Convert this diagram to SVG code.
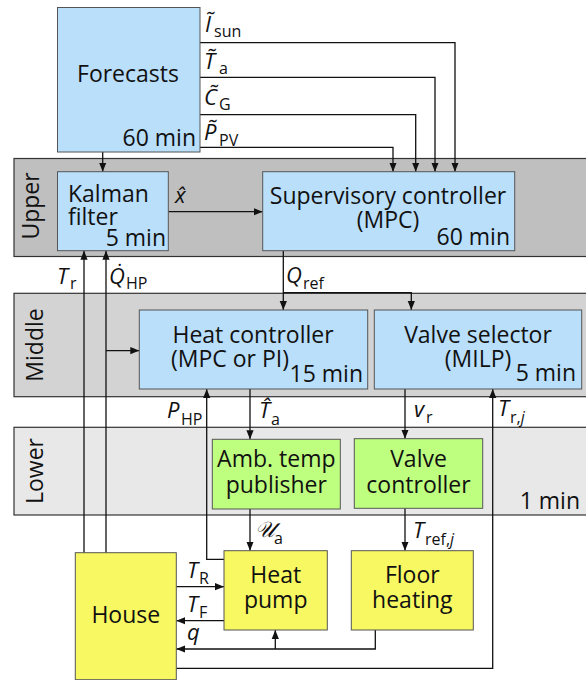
<svg xmlns="http://www.w3.org/2000/svg" width="586" height="680" viewBox="0 0 586 680">
<defs>
<marker id="ah" viewBox="0 0 10 10" refX="10" refY="5" markerWidth="9" markerHeight="9" markerUnits="userSpaceOnUse" orient="auto">
<path d="M0,1 L10,5 L0,9 z" fill="#111"/>
</marker>
<style>
.band{stroke:#333;stroke-width:1.2}
.blue{fill:#b9dffb;stroke:#555;stroke-width:1}
.green{fill:#bfff80;stroke:#555;stroke-width:1}
.yellow{fill:#f8f862;stroke:#555;stroke-width:1}
.t{font-family:"Open Sans","DejaVu Sans",sans-serif;font-size:23px;fill:#111}
.c{text-anchor:middle}
.r{text-anchor:end}
.m{font-family:"Open Sans","DejaVu Sans",sans-serif;font-size:22px;font-style:italic;fill:#111}
.s{font-family:"Open Sans","DejaVu Sans",sans-serif;font-size:16px;font-style:normal;fill:#111}
.si{font-family:"Open Sans","DejaVu Sans",sans-serif;font-size:16px;font-style:italic;fill:#111}
.w{fill:none;stroke:#111;stroke-width:1.3}
.wa{fill:none;stroke:#111;stroke-width:1.3;marker-end:url(#ah)}
</style>
</defs>
<rect width="586" height="680" fill="#fff"/>

<g id="bands">
<rect class="band" x="14" y="158.5" width="580" height="98" fill="#bfbfbf"/>
<rect class="band" x="14" y="293.3" width="580" height="103.4" fill="#d3d3d3"/>
<rect class="band" x="14" y="427.3" width="580" height="87.7" fill="#e8e8e8"/>
<text class="t c" transform="translate(39,206) rotate(-90)">Upper</text>
<text class="t c" transform="translate(42.5,345) rotate(-90)">Middle</text>
<text class="t c" transform="translate(42.5,471) rotate(-90)">Lower</text>
<text class="t r" x="580" y="509">1 min</text>
</g>

<g id="connectors">
<path class="w" d="M200,42.7 H455 V171.7" marker-end="url(#ah)"/>
<path class="w" d="M200,77.3 H435 V171.7" marker-end="url(#ah)"/>
<path class="w" d="M200,114.7 H415.7 V171.7" marker-end="url(#ah)"/>
<path class="w" d="M200,147.3 H393 V171.7" marker-end="url(#ah)"/>
<path class="wa" d="M102.7,152 V171.7"/>
<path class="wa" d="M168.3,211.7 H262.7"/>
<path class="wa" d="M283.3,250.7 V310"/>
<path class="wa" d="M283.3,292.7 H411.3 V310"/>
<path class="wa" d="M84,552.7 V250.7"/>
<path class="wa" d="M106,552.7 V250.7"/>
<path class="wa" d="M106,350.7 H139.3"/>
<path class="wa" d="M224,559.3 H206.7 V389"/>
<path class="wa" d="M250,389 V439.3"/>
<path class="wa" d="M405,389 V438.7"/>
<path class="wa" d="M176.3,668.3 H492.7 V389"/>
<path class="wa" d="M250,509 V550.7"/>
<path class="wa" d="M405,508.3 V550.7"/>
<path class="wa" d="M176.3,586.7 H224"/>
<path class="wa" d="M224,620.7 H176.3"/>
<path class="wa" d="M375.3,630 V649 H176.3"/>
<path class="wa" d="M275.3,649 V630"/>

<text class="m" x="205" y="32">Ĩ</text><text class="s" x="214" y="37">sun</text>
<text class="m" x="204" y="69">T̃</text><text class="s" x="219" y="74">a</text>
<text class="m" x="204" y="105">C̃</text><text class="s" x="219" y="110">G</text>
<text class="m" x="204" y="140">P̃</text><text class="s" x="219" y="146">PV</text>
<text class="m" x="175" y="203">x̂</text>
<text class="m" x="286" y="283">Q</text><text class="s" x="303" y="289">ref</text>
<text class="m" x="57" y="284">T</text><text class="s" x="70" y="289">r</text>
<text class="m" x="109" y="284">Q̇</text><text class="s" x="126" y="289">HP</text>
<text class="m" x="167" y="418">P</text><text class="s" x="181" y="425">HP</text>
<text class="m" x="259" y="418">T̂</text><text class="s" x="271" y="425">a</text>
<text class="m" x="414" y="417">v</text><text class="s" x="426" y="423">r</text>
<text class="m" x="498" y="416">T</text><text class="s" x="510" y="423">r,<tspan class="si">j</tspan></text>
<text class="m" x="255" y="537">𝒰</text><text class="s" x="274" y="544">a</text>
<text class="m" x="413" y="538">T</text><text class="s" x="425" y="545">ref,<tspan class="si">j</tspan></text>
<text class="m" x="187" y="578">T</text><text class="s" x="199" y="584">R</text>
<text class="m" x="187" y="612">T</text><text class="s" x="199" y="618">F</text>
<text class="m" x="187" y="640">q</text>
</g>

<g id="forecasts">
<rect class="blue" x="57.5" y="7.5" width="142.5" height="144.5"/>
<text class="t c" x="128" y="82">Forecasts</text>
<text class="t r" x="196" y="146">60 min</text>
</g>

<g id="kalman">
<rect class="blue" x="57.5" y="171.7" width="110.8" height="79"/>
<text class="t" x="68" y="202">Kalman</text>
<text class="t" x="68" y="225">filter</text>
<text class="t r" x="166" y="246">5 min</text>
</g>

<g id="supervisory">
<rect class="blue" x="262.7" y="171.7" width="252" height="79"/>
<text class="t c" x="388" y="204">Supervisory controller</text>
<text class="t c" x="388" y="228">(MPC)</text>
<text class="t r" x="510" y="245">60 min</text>
</g>

<g id="heatcontroller">
<rect class="blue" x="139.3" y="310" width="228.4" height="79"/>
<text class="t c" x="253" y="343">Heat controller</text>
<text class="t" x="171" y="367">(MPC or PI)</text>
<text class="t r" x="363" y="382">15 min</text>
</g>

<g id="valveselector">
<rect class="blue" x="374.3" y="310" width="207.4" height="79"/>
<text class="t c" x="478" y="343">Valve selector</text>
<text class="t c" x="478" y="367">(MILP)</text>
<text class="t r" x="576" y="381">5 min</text>
</g>

<g id="ambtemp">
<rect class="green" x="212.3" y="439.3" width="128" height="69.7"/>
<text class="t c" x="276.3" y="467">Amb. temp</text>
<text class="t c" x="276.3" y="493">publisher</text>
</g>

<g id="valvecontroller">
<rect class="green" x="354.3" y="438.7" width="128.4" height="69.6"/>
<text class="t c" x="418.5" y="467">Valve</text>
<text class="t c" x="418.5" y="493">controller</text>
</g>

<g id="house">
<rect class="yellow" x="75.3" y="552.7" width="101" height="127"/>
<text class="t c" x="125.8" y="623">House</text>
</g>

<g id="heatpump">
<rect class="yellow" x="224" y="550.7" width="103.3" height="79.3"/>
<text class="t c" x="275.7" y="583">Heat</text>
<text class="t c" x="275.7" y="608">pump</text>
</g>

<g id="floorheating">
<rect class="yellow" x="351.3" y="550.7" width="122" height="79.3"/>
<text class="t c" x="412.3" y="583">Floor</text>
<text class="t c" x="412.3" y="608">heating</text>
</g>
</svg>
